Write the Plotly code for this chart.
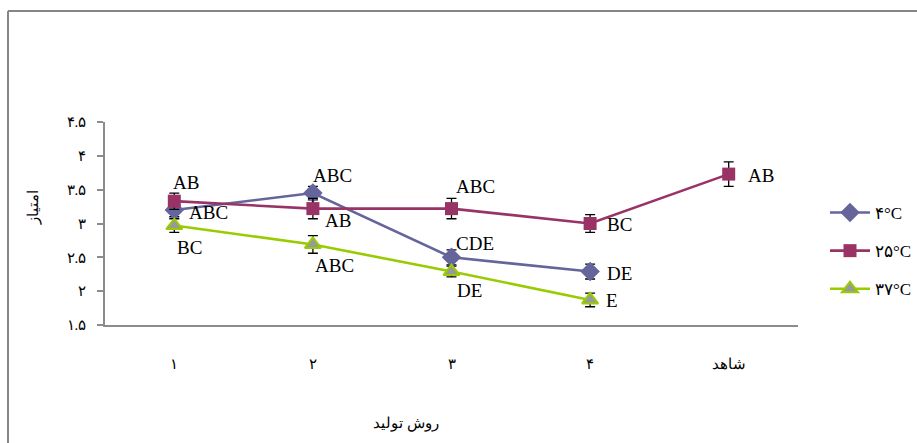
import plotly.graph_objects as go

# Categories (production method) and Persian tick labels
categories = ["۱", "۲", "۳", "۴", "شاهد"]

# Mean scores per storage temperature
temp4_values = [3.2, 3.45, 2.5, 2.29]
temp25_values = [3.33, 3.22, 3.22, 3.0, 3.73]
temp37_values = [2.97, 2.69, 2.29, 1.87]

# Error bar half-lengths
temp4_err = [0.1, 0.1, 0.11, 0.11]
temp25_err = [0.12, 0.15, 0.15, 0.13, 0.18]
temp37_err = [0.1, 0.13, 0.08, 0.1]

# Significance letters
temp4_letters = ["ABC", "ABC", "CDE", "DE"]
temp25_letters = ["AB", "AB", "ABC", "BC", "AB"]
temp37_letters = ["BC", "ABC", "DE", "E"]

# Y ticks
y_tickvals = [1.5, 2, 2.5, 3, 3.5, 4, 4.5]
y_ticktext = ["۱.۵", "۲", "۲.۵", "۳", "۳.۵", "۴", "۴.۵"]

series_names = ["۴°C", "۲۵°C", "۳۷°C"]

serif = "Liberation Serif, Times New Roman, DejaVu Serif, serif"
err_style = dict(type="data", visible=True, color="black", thickness=1.3, width=5)

fig = go.Figure()

fig.add_trace(go.Scatter(
    x=categories[:4], y=temp4_values, name=series_names[0], mode="lines+markers",
    line=dict(color="#65659c", width=2.6),
    marker=dict(symbol="diamond", size=15, color="#65659c"),
    error_y=dict(array=temp4_err, **err_style),
    legendgroup="a",
))
fig.add_trace(go.Scatter(
    x=categories, y=temp25_values, name=series_names[1], mode="lines+markers",
    line=dict(color="#993366", width=2.6),
    marker=dict(symbol="square", size=13, color="#993366"),
    error_y=dict(array=temp25_err, **err_style),
    legendgroup="b",
))
fig.add_trace(go.Scatter(
    x=categories[:4], y=temp37_values, name=series_names[2], mode="lines+markers",
    line=dict(color="#99cc00", width=2.6),
    marker=dict(symbol="triangle-up", size=14, color="#999999",
                line=dict(color="#99cc00", width=2)),
    error_y=dict(array=temp37_err, **err_style),
    legendgroup="c",
))

# Letter labels placed next to each point (xshift, yshift in px)
label_offsets = {
    "4": [(34, -3), (20, 18), (23, 14), (29, -2)],
    "25": [(12, 19), (25, -12), (24, 22), (29, -1), (32, -1)],
    "37": [(15, -22), (22, -21), (18, -19), (22, -1)],
}
for key, vals, letters in [("4", temp4_values, temp4_letters),
                           ("25", temp25_values, temp25_letters),
                           ("37", temp37_values, temp37_letters)]:
    for i, (v, t) in enumerate(zip(vals, letters)):
        dx, dy = label_offsets[key][i]
        fig.add_annotation(x=categories[i], y=v, text=t, showarrow=False,
                           xshift=dx, yshift=dy,
                           font=dict(family=serif, size=19, color="black"))

# Axis titles
fig.add_annotation(xref="paper", yref="paper", x=(33 - 105) / 693, y=(325 - 208) / 203,
                   xanchor="center", yanchor="middle",
                   text="امتیاز", textangle=-90, showarrow=False,
                   font=dict(family=serif, size=15, color="black"))
fig.add_annotation(xref="paper", yref="paper", x=(406 - 105) / 693, y=(325 - 423) / 203,
                   xanchor="center", yanchor="middle",
                   text="روش تولید", showarrow=False,
                   font=dict(family=serif, size=15, color="black"))

# Outer frame (left and top edges)
fig.add_shape(type="line", xref="paper", yref="paper",
              x0=(8 - 105) / 693, x1=(8 - 105) / 693, y0=(325 - 11) / 203, y1=(325 - 445) / 203,
              line=dict(color="#868686", width=2))
fig.add_shape(type="line", xref="paper", yref="paper",
              x0=(8 - 105) / 693, x1=(917 - 105) / 693, y0=(325 - 11) / 203, y1=(325 - 11) / 203,
              line=dict(color="#868686", width=2))

fig.update_layout(
    width=917, height=443,
    margin=dict(l=105, r=119, t=122, b=118),
    paper_bgcolor="white", plot_bgcolor="white",
    font=dict(family=serif, size=14, color="black"),
    showlegend=True,
    legend=dict(xref="container", yref="container",
                x=825 / 917, y=1 - 195 / 443, xanchor="left", yanchor="top",
                font=dict(family=serif, size=17, color="black"),
                tracegroupgap=13, itemwidth=40, bgcolor="rgba(0,0,0,0)"),
    xaxis=dict(
        type="category", categoryorder="array", categoryarray=categories,
        range=[-0.5, 4.5], showgrid=False, zeroline=False,
        showline=True, linecolor="#8c8c8c", linewidth=1.5,
        ticks="", ticklabelstandoff=24,
        tickfont=dict(family=serif, size=15, color="black"),
    ),
    yaxis=dict(
        range=[1.5, 4.5], tickvals=y_tickvals, ticktext=y_ticktext,
        showgrid=False, zeroline=False,
        showline=True, linecolor="#8c8c8c", linewidth=1.5,
        ticks="outside", ticklen=6, tickcolor="#8c8c8c", tickwidth=1.5,
        ticklabelstandoff=8,
        tickfont=dict(family=serif, size=15, color="black"),
    ),
)

fig.write_html("out.html")
